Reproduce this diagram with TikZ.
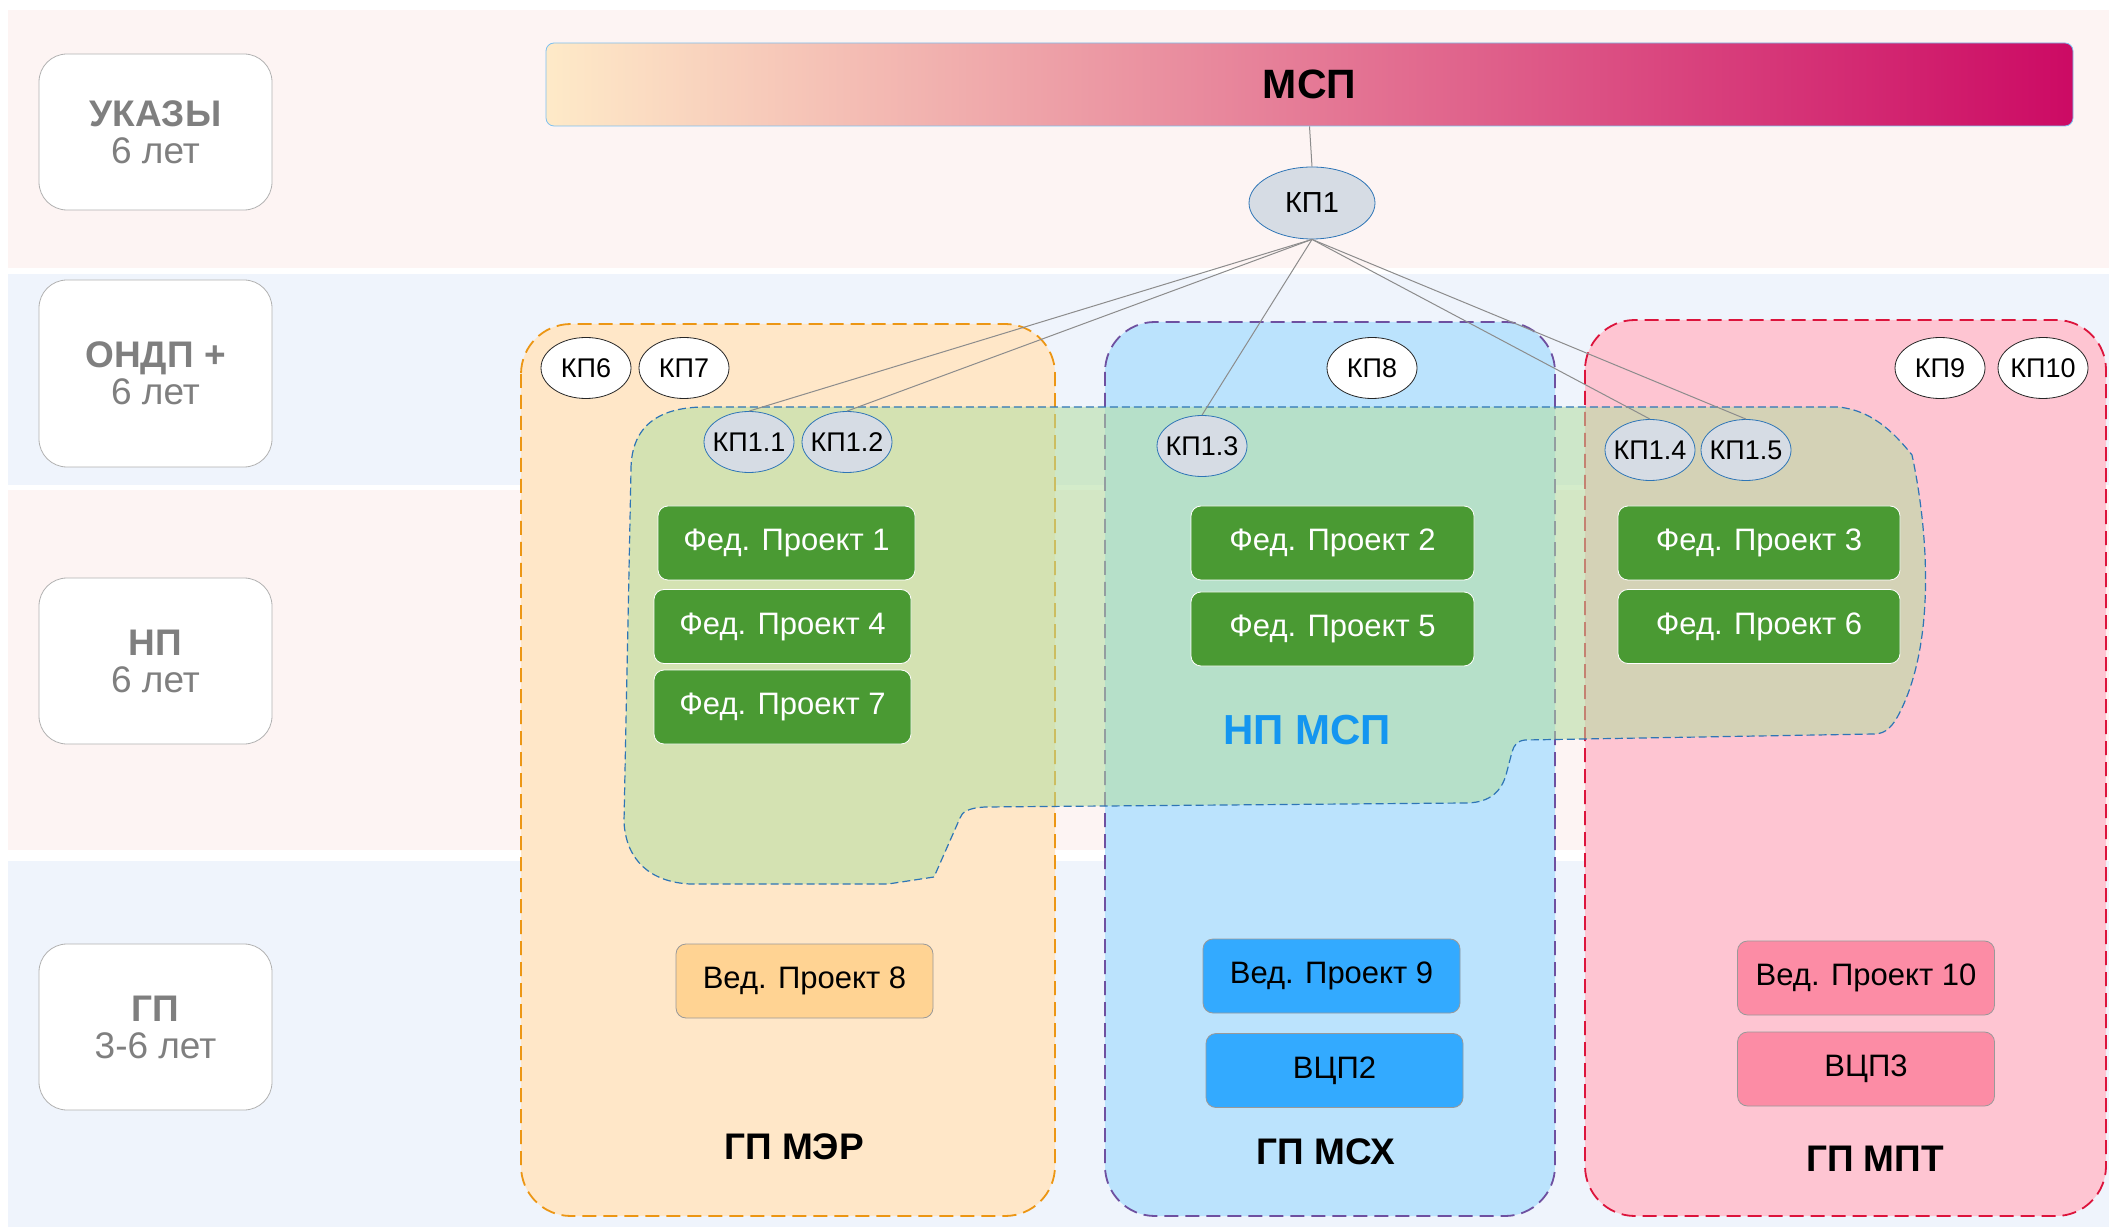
\documentclass[tikz,border=0pt]{standalone}
\usepackage{fontspec}
\setmainfont{Liberation Sans}
\usetikzlibrary{shapes.geometric}

\definecolor{bandpink}{RGB}{253,244,243}
\definecolor{bandblue}{RGB}{239,244,252}
\definecolor{srokgray}{RGB}{127,127,127}
\definecolor{barblue}{RGB}{125,192,240}
\definecolor{barleft}{RGB}{254,234,200}
\definecolor{barright}{RGB}{204,10,100}
\definecolor{merfill}{RGB}{255,231,200}
\definecolor{merline}{RGB}{236,150,20}
\definecolor{mcxfill}{RGB}{187,227,253}
\definecolor{mcxline}{RGB}{110,80,160}
\definecolor{mptfill}{RGB}{254,197,210}
\definecolor{mptline}{RGB}{220,20,60}
\definecolor{npgreen}{RGB}{178,222,160}
\definecolor{npblue}{RGB}{46,117,182}
\definecolor{nptext}{RGB}{20,150,240}
\definecolor{kpgray}{RGB}{214,220,228}
\definecolor{fedgreen}{RGB}{74,154,51}
\definecolor{vedorange}{RGB}{255,211,147}
\definecolor{vedblue}{RGB}{51,170,255}
\definecolor{vedpink}{RGB}{252,140,165}

\begin{document}
\begin{tikzpicture}[x=0.5pt,y=-0.5pt,
        srok/.style={draw=gray!60,fill=white,rounded corners=14pt,minimum width=116.5pt,minimum height=#1,align=center,text=srokgray,font=\fontsize{18.5}{18.5}\selectfont},
        gp/.style={dashed,dash pattern=on 7pt off 3.5pt,line width=0.9pt,rounded corners=25pt},
        gplabel/.style={font=\bfseries\fontsize{18.5}{18.5}\selectfont},
        kp/.style={ellipse,draw=black!85,fill=white,minimum width=45pt,minimum height=30.5pt,inner xsep=-3pt,inner ysep=0pt,font=\fontsize{13.5}{13.5}\selectfont},
        kpx/.style={kp,draw=npblue,fill=kpgray},
        fed/.style={rounded corners=5pt,draw=white,fill=fedgreen,text=white,minimum width=#1,minimum height=37pt,font=\fontsize{15.5}{15.5}\selectfont},
        ved/.style={rounded corners=5pt,draw=gray!80,fill=#1,minimum width=128.5pt,minimum height=37pt,font=\fontsize{15.5}{15.5}\selectfont},
        link/.style={draw=gray!90,line width=0.5pt}]
            \useasboundingbox (0,0) rectangle (2109,1229);
            \fill [white] (0,0) rectangle (2109,1229);
            % bandes des niveaux
            \fill [bandpink] (8,10) rectangle (2109,268);
            \fill [bandblue] (8,274) rectangle (2109,485);
            \fill [bandpink] (8,490) rectangle (2109,850);
            \fill [bandblue] (8,861) rectangle (2109,1227);

            \node (ukazy) [srok=78pt] at (155.5,132) {\textbf{УКАЗЫ}\\6 лет};
            \node (ondp) [srok=93.5pt] at (155.5,373.5) {\textbf{ОНДП +}\\6 лет};
            \node (np) [srok=83pt] at (155.5,661) {\textbf{НП}\\6 лет};
            \node (gp) [srok=83pt] at (155.5,1027) {\textbf{ГП}\\3-6 лет};

            \node (msp) [draw=barblue,left color=barleft,right color=barright,rounded corners=4pt,minimum width=763.5pt,minimum height=41.5pt,font=\bfseries\fontsize{20.5}{20.5}\selectfont] at (1309.5,84.5) {МСП};

            \draw [gp,draw=merline,fill=merfill] (521,324) rectangle (1055,1216);
            \draw [gp,draw=mcxline,fill=mcxfill] (1105,322) rectangle (1555,1216);
            \draw [gp,draw=mptline,fill=mptfill] (1585,320) rectangle (2106,1216);

            \def\npmsp{(631,470) .. controls (631,425) and (660,407) .. (705,407) -- (1838,407)
                .. controls (1870,410) and (1892,430) .. (1912,455)
                .. controls (1928,530) and (1936,640) .. (1900,712)
                .. controls (1893,726) and (1886,734) .. (1874,734) -- (1525,740)
                .. controls (1517,741) and (1514,745) .. (1512,752) -- (1506,775)
                .. controls (1500,795) and (1486,803) .. (1465,803) -- (985,807)
                .. controls (968,808) and (962,812) .. (960,818) -- (934,877) -- (888,884) -- (690,884)
                .. controls (650,882) and (626,860) .. (624,822) -- cycle}
            \path [fill=npgreen,fill opacity=.55,draw=npblue,dashed,dash pattern=on 4pt off 2pt,line width=0.6pt] \npmsp;
            \node (npmsp) [text=nptext,font=\bfseries\fontsize{21}{21}\selectfont] at (1307,730) {НП МСП};

            \node (kp1) [kpx,minimum width=63pt,minimum height=36pt,font=\fontsize{14.5}{14.5}\selectfont] at (1312,203) {КП1};
            \node (kp6) [kp] at (586,368) {КП6};
            \node (kp7) [kp] at (684,368) {КП7};
            \node (kp8) [kp] at (1372,368) {КП8};
            \node (kp9) [kp] at (1940,368) {КП9};
            \node (kp10) [kp] at (2043,368) {КП10};
            \node (kp11) [kpx] at (749,442) {КП1.1};
            \node (kp12) [kpx] at (847,442) {КП1.2};
            \node (kp13) [kpx] at (1202,446) {КП1.3};
            \node (kp14) [kpx] at (1650,450) {КП1.4};
            \node (kp15) [kpx] at (1746,450) {КП1.5};

            \draw [link] (msp.south) -- (kp1.north);
            \foreach \k in {kp11,kp12,kp13,kp14,kp15}
                \draw [link] (kp1.south) -- (\k.north);

            \node (fp1) [fed=128.5pt] at (786.5,543) {Фед. Проект 1};
            \node (fp4) [fed=128.5pt] at (782.5,626.5) {Фед. Проект 4};
            \node (fp7) [fed=128.5pt] at (782.5,707) {Фед. Проект 7};
            \node (fp2) [fed=141.5pt] at (1332.5,543) {Фед. Проект 2};
            \node (fp5) [fed=141.5pt] at (1332.5,629) {Фед. Проект 5};
            \node (fp3) [fed=141pt] at (1759,543) {Фед. Проект 3};
            \node (fp6) [fed=141pt] at (1759,626.5) {Фед. Проект 6};

            \node (vp8) [ved=vedorange] at (804.5,981) {Вед. Проект 8};
            \node (vp9) [ved=vedblue] at (1331.5,976) {Вед. Проект 9};
            \node (vcp2) [ved=vedblue] at (1334.5,1070.5) {ВЦП2};
            \node (vp10) [ved=vedpink] at (1866,978) {Вед. Проект 10};
            \node (vcp3) [ved=vedpink] at (1866,1069) {ВЦП3};

            \node (gpmer) [gplabel] at (794,1147) {ГП МЭР};
            \node (gpmcx) [gplabel] at (1326,1152) {ГП МСХ};
            \node (gpmpt) [gplabel] at (1875,1159) {ГП МПТ};
        \end{tikzpicture}
\end{document}
